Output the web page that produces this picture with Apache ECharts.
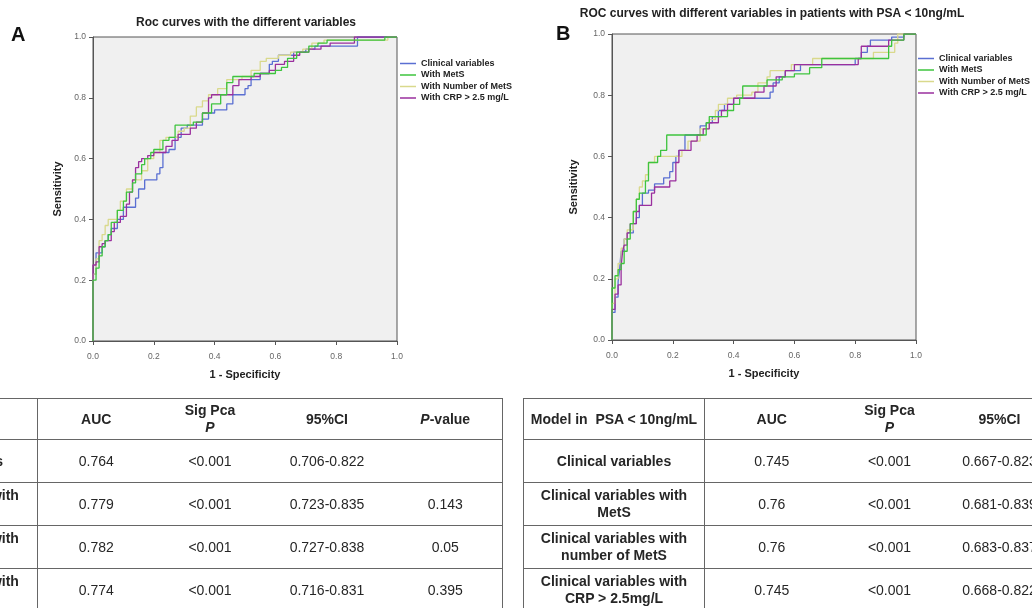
<!DOCTYPE html>
<html><head><meta charset="utf-8">
<script src="https://cdn.jsdelivr.net/npm/echarts@6/dist/echarts.min.js"></script>
<style>
html,body{margin:0;padding:0;width:1032px;height:608px;overflow:hidden;background:#fff;font-family:"Liberation Sans",Arial,sans-serif;}
#chart{position:absolute;left:0;top:0;width:1032px;height:608px;}
table{position:absolute;border-collapse:collapse;font-size:14px;color:#262626;table-layout:fixed;}
td{border-top:1px solid #666;border-bottom:1px solid #666;text-align:center;padding:0;line-height:17px;overflow:hidden;white-space:nowrap;}
td.lab{font-weight:bold;border-right:1px solid #666;}
tr.h td{font-weight:bold;height:40px;}
tr.r td{height:42px;}
</style>
</head><body>
<div id="chart"></div>
<table id="tA" style="left:-145px;top:398px;border-right:1px solid #666;"></table>
<table id="tB" style="left:523px;top:398px;border-left:1px solid #666;"></table>
<script>
// ---------- DATA ----------
const seriesNames = ['Clinical variables','With MetS','With Number of MetS','With CRP > 2.5 mg/L'];
const axisTicks = [0,0.2,0.4,0.6,0.8,1.0];

// Panel A: [1 - specificity, sensitivity]
const clinicalA = [[0,0],[0,0.06],[0,0.2],[0.01,0.22],[0.02,0.29],[0.03,0.29],[0.04,0.31],[0.05,0.33],[0.06,0.35],[0.08,0.37],[0.10,0.40],[0.12,0.44],[0.14,0.44],[0.15,0.47],[0.17,0.50],[0.19,0.53],[0.21,0.53],[0.22,0.55],[0.23,0.57],[0.25,0.62],[0.27,0.63],[0.29,0.67],[0.31,0.70],[0.33,0.71],[0.36,0.71],[0.38,0.73],[0.40,0.75],[0.44,0.76],[0.46,0.78],[0.47,0.81],[0.50,0.81],[0.51,0.83],[0.52,0.84],[0.55,0.86],[0.58,0.88],[0.59,0.91],[0.61,0.92],[0.62,0.94],[0.66,0.94],[0.70,0.95],[0.73,0.96],[0.80,0.97],[0.87,0.97],[0.87,1.0],[1,1]];
const metsA = [[0,0],[0,0.14],[0.01,0.20],[0.02,0.24],[0.03,0.28],[0.04,0.31],[0.05,0.33],[0.06,0.35],[0.08,0.39],[0.10,0.43],[0.11,0.46],[0.13,0.49],[0.14,0.52],[0.16,0.55],[0.17,0.58],[0.19,0.60],[0.20,0.62],[0.23,0.63],[0.25,0.66],[0.27,0.67],[0.29,0.71],[0.33,0.71],[0.36,0.72],[0.39,0.75],[0.42,0.78],[0.44,0.81],[0.46,0.85],[0.49,0.87],[0.53,0.87],[0.57,0.88],[0.60,0.88],[0.62,0.89],[0.64,0.90],[0.67,0.93],[0.71,0.95],[0.74,0.97],[0.77,0.98],[0.86,0.99],[0.96,0.99],[0.96,1.0],[1,1]];
const numMetsA = [[0,0],[0,0.15],[0.01,0.22],[0.02,0.27],[0.03,0.33],[0.04,0.35],[0.05,0.38],[0.08,0.40],[0.09,0.43],[0.11,0.46],[0.13,0.50],[0.16,0.53],[0.18,0.56],[0.20,0.60],[0.22,0.62],[0.24,0.66],[0.25,0.67],[0.28,0.67],[0.30,0.69],[0.32,0.70],[0.34,0.74],[0.36,0.77],[0.38,0.79],[0.41,0.81],[0.44,0.83],[0.46,0.86],[0.49,0.86],[0.52,0.87],[0.55,0.89],[0.57,0.92],[0.61,0.93],[0.65,0.94],[0.69,0.95],[0.72,0.96],[0.76,0.98],[0.82,0.99],[0.97,0.99],[0.97,1.0],[1,1]];
const crpA = [[0,0],[0,0.20],[0.01,0.25],[0.02,0.26],[0.03,0.31],[0.04,0.32],[0.06,0.33],[0.07,0.36],[0.09,0.39],[0.11,0.41],[0.12,0.45],[0.13,0.49],[0.14,0.53],[0.15,0.57],[0.16,0.59],[0.18,0.60],[0.20,0.61],[0.24,0.62],[0.26,0.64],[0.28,0.66],[0.32,0.68],[0.34,0.70],[0.36,0.72],[0.38,0.75],[0.39,0.80],[0.43,0.81],[0.46,0.81],[0.48,0.84],[0.52,0.86],[0.55,0.87],[0.58,0.88],[0.60,0.89],[0.63,0.91],[0.66,0.92],[0.68,0.94],[0.71,0.95],[0.75,0.96],[0.78,0.97],[0.86,0.98],[0.86,1.0],[1,1]];

// Panel B: [1 - specificity, sensitivity]
const clinicalB = [[0,0],[0,0.02],[0.01,0.09],[0.02,0.14],[0.025,0.19],[0.03,0.23],[0.04,0.29],[0.05,0.33],[0.07,0.35],[0.08,0.38],[0.09,0.40],[0.10,0.44],[0.12,0.48],[0.14,0.49],[0.17,0.51],[0.19,0.53],[0.20,0.55],[0.21,0.58],[0.22,0.60],[0.24,0.62],[0.26,0.67],[0.29,0.67],[0.31,0.70],[0.33,0.71],[0.35,0.73],[0.37,0.75],[0.40,0.77],[0.41,0.79],[0.45,0.79],[0.52,0.79],[0.53,0.81],[0.55,0.84],[0.57,0.86],[0.58,0.88],[0.62,0.88],[0.70,0.90],[0.80,0.90],[0.82,0.92],[0.84,0.94],[0.85,0.96],[0.88,0.98],[0.92,0.98],[0.96,0.99],[0.97,1.0],[1,1]];
const metsB = [[0,0],[0,0.07],[0.01,0.17],[0.02,0.21],[0.03,0.23],[0.04,0.25],[0.05,0.29],[0.06,0.33],[0.07,0.38],[0.08,0.42],[0.09,0.46],[0.11,0.48],[0.12,0.52],[0.13,0.58],[0.15,0.58],[0.16,0.60],[0.18,0.62],[0.19,0.67],[0.22,0.67],[0.31,0.67],[0.32,0.71],[0.35,0.73],[0.38,0.73],[0.40,0.75],[0.42,0.77],[0.43,0.79],[0.46,0.83],[0.51,0.83],[0.52,0.85],[0.56,0.85],[0.60,0.86],[0.65,0.87],[0.69,0.89],[0.76,0.92],[0.83,0.92],[0.91,0.92],[0.92,0.96],[0.96,0.98],[0.97,1.0],[1,1]];
const numMetsB = [[0,0],[0,0.05],[0.01,0.12],[0.02,0.20],[0.03,0.25],[0.04,0.30],[0.05,0.33],[0.07,0.36],[0.08,0.42],[0.09,0.46],[0.10,0.50],[0.11,0.52],[0.12,0.54],[0.14,0.58],[0.15,0.60],[0.20,0.60],[0.23,0.60],[0.25,0.62],[0.27,0.65],[0.29,0.65],[0.32,0.69],[0.34,0.72],[0.35,0.75],[0.38,0.77],[0.41,0.79],[0.43,0.80],[0.46,0.80],[0.48,0.81],[0.51,0.84],[0.52,0.86],[0.54,0.88],[0.59,0.88],[0.61,0.90],[0.66,0.90],[0.73,0.92],[0.83,0.92],[0.86,0.92],[0.90,0.94],[0.93,0.94],[0.94,0.97],[0.95,1.0],[1,1]];
const crpB = [[0,0],[0,0.04],[0.01,0.10],[0.02,0.15],[0.03,0.18],[0.035,0.24],[0.04,0.29],[0.05,0.31],[0.06,0.35],[0.08,0.38],[0.09,0.42],[0.10,0.44],[0.13,0.44],[0.14,0.48],[0.15,0.50],[0.19,0.50],[0.21,0.52],[0.22,0.58],[0.23,0.62],[0.26,0.62],[0.28,0.65],[0.30,0.67],[0.32,0.69],[0.35,0.71],[0.36,0.73],[0.38,0.75],[0.40,0.77],[0.42,0.79],[0.47,0.79],[0.50,0.81],[0.54,0.83],[0.57,0.86],[0.60,0.88],[0.63,0.90],[0.70,0.90],[0.81,0.90],[0.82,0.92],[0.84,0.96],[0.91,0.96],[0.92,0.98],[0.96,0.98],[0.97,1.0],[1,1]];

// Tables
const tableHeaderA = ['Model','AUC','Sig Pca<br><i>P</i>','95%CI','<i>P</i>-value'];
const tableHeaderB = ['Model in&nbsp; PSA &lt; 10ng/mL','AUC','Sig Pca<br><i>P</i>','95%CI','<i>P</i>-value'];
const modelLabels = ['Clinical variables','Clinical variables with<br>MetS','Clinical variables with<br>number of MetS','Clinical variables with<br>CRP &gt; 2.5mg/L'];
const aucA = ['0.764','0.779','0.782','0.774'];
const sigA = ['&lt;0.001','&lt;0.001','&lt;0.001','&lt;0.001'];
const ciA = ['0.706-0.822','0.723-0.835','0.727-0.838','0.716-0.831'];
const pA = ['','0.143','0.05','0.395'];
const aucB = ['0.745','0.76','0.76','0.745'];
const sigB = ['&lt;0.001','&lt;0.001','&lt;0.001','&lt;0.001'];
const ciB = ['0.667-0.823','0.681-0.839','0.683-0.837','0.668-0.822'];
const pB = ['','','',''];

// ---------- RENDER ----------
const colors = ['#5a6fd2','#3ec43e','#d9d98c','#9a2f9e'];
const FONT = '"Liberation Sans", Arial, sans-serif';
const chart = echarts.init(document.getElementById('chart'));

function axes(gi, isX, gap){
  return {
    type:'value', gridIndex:gi, min:0, max:1, interval:0.2,
    name: isX ? '1 - Specificity' : 'Sensitivity',
    nameLocation:'middle', nameGap: gap,
    nameTextStyle:{fontFamily:FONT,fontWeight:'bold',fontSize:11,color:'#222'},
    axisLine:{show:true,lineStyle:{color:'#555',width:1}},
    axisTick:{show:true,length:4,lineStyle:{color:'#555'}},
    axisLabel:{fontFamily:FONT,fontSize:8.5,color:'#666',margin:isX?11:7,formatter:v=>v.toFixed(1)},
    splitLine:{show:false}
  };
}
const dataA = [clinicalA, metsA, numMetsA, crpA];
const dataB = [clinicalB, metsB, numMetsB, crpB];
const series = [];
[dataA, dataB].forEach((set, gi)=>{
  set.forEach((d,i)=>{
    series.push({type:'line', name:seriesNames[i], xAxisIndex:gi, yAxisIndex:gi, data:d,
      step:'start', symbol:'none', showSymbol:false, silent:true,
      lineStyle:{color:colors[i],width:1.3}, itemStyle:{color:colors[i]}, z: 2+ (i===1?1:0)});
  });
});
function legend(left, top){
  return {left, top, padding:0, orient:'vertical', data:seriesNames, icon:'rect', itemWidth:16, itemHeight:1.5,
    itemGap:2.5, selectedMode:false,
    textStyle:{fontFamily:FONT,fontWeight:'bold',fontSize:9,color:'#222',lineHeight:9}};
}
chart.setOption({
  animation:false,
  color:colors,
  title:[
    {text:'Roc curves with the different variables', left:246, top:17, padding:0, textAlign:'center',
      textStyle:{fontFamily:FONT,fontWeight:'bold',fontSize:12,color:'#222'}},
    {text:'ROC curves with different variables in patients with PSA < 10ng/mL', left:772, top:8, padding:0, textAlign:'center',
      textStyle:{fontFamily:FONT,fontWeight:'bold',fontSize:12,color:'#222'}}
  ],
  graphic:[
    {type:'text', left:11, top:25, style:{text:'A', font:'bold 20px '+FONT, fill:'#111'}},
    {type:'text', left:556, top:24, style:{text:'B', font:'bold 20px '+FONT, fill:'#111'}}
  ],
  legend:[legend(400,59), legend(918,54)],
  grid:[
    {left:93, top:37, width:304, height:304, show:true, backgroundColor:'#f0f0f0', borderColor:'#555', borderWidth:1},
    {left:612, top:34, width:304, height:306, show:true, backgroundColor:'#f0f0f0', borderColor:'#555', borderWidth:1}
  ],
  xAxis:[axes(0,true,28), axes(1,true,28)],
  yAxis:[axes(0,false,30), axes(1,false,33)],
  series
});

function buildTable(id, header, labels, cols, widths){
  const tbl = document.getElementById(id);
  tbl.style.width = widths.reduce((a,b)=>a+b,0) + 'px';
  let html = '<colgroup>' + widths.map(w=>'<col style="width:'+w+'px">').join('') + '</colgroup>';
  html += '<tr class="h">' + header.map((h,i)=>'<td'+(i===0?' class="lab"':'')+'>'+h+'</td>').join('') + '</tr>';
  labels.forEach((l,r)=>{
    html += '<tr class="r"><td class="lab">'+l+'</td>' + cols.map(c=>'<td>'+c[r]+'</td>').join('') + '</tr>';
  });
  tbl.innerHTML = html;
}
buildTable('tA', tableHeaderA, modelLabels, [aucA,sigA,ciA,pA], [182,118,110,124,113]);
buildTable('tB', tableHeaderB, modelLabels, [aucB,sigB,ciB,pB], [181,134,102,118,110]);
</script>
</body></html>
